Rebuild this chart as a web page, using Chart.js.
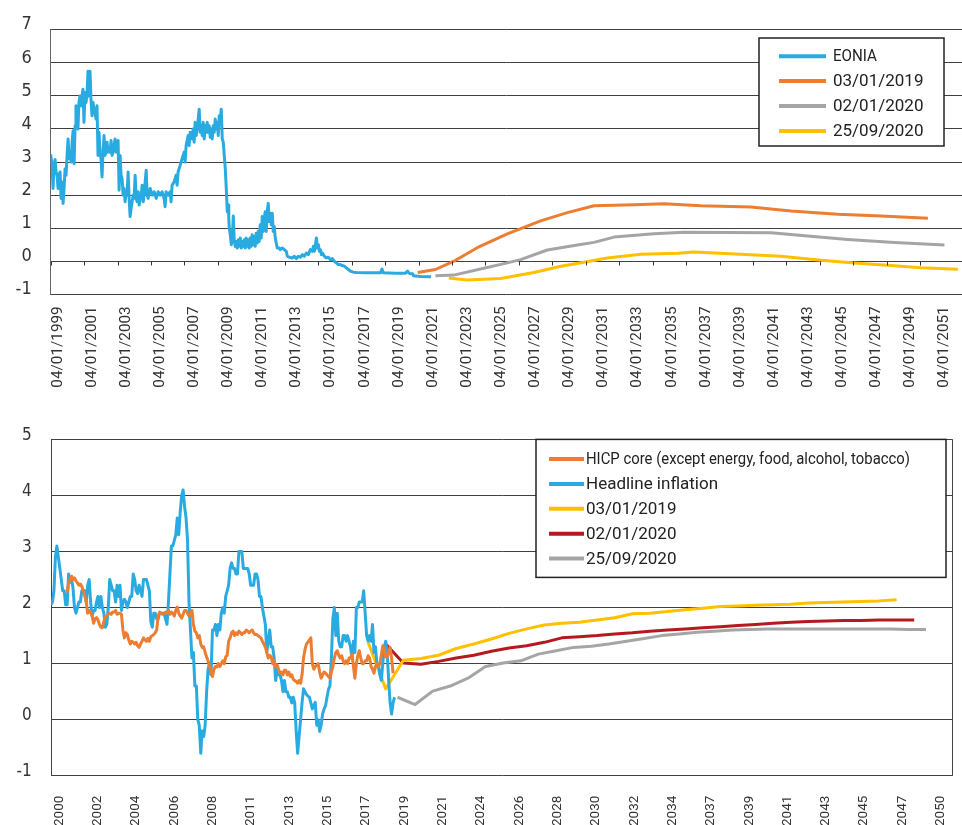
<!DOCTYPE html>
<html>
<head>
<meta charset="utf-8">
<script src="https://cdn.jsdelivr.net/npm/chart.js@4.4.1/dist/chart.umd.min.js"></script>
<style>
  html, body { margin: 0; padding: 0; background: #fff; }
  #wrap { position: relative; width: 962px; height: 825px; overflow: hidden; }
  #eoniaChart { position: absolute; left: 0; top: 0; }
  #inflationChart { position: absolute; left: 0; top: 410px; }
</style>
</head>
<body>
<div id="wrap">
  <canvas id="eoniaChart" width="962" height="410"></canvas>
  <canvas id="inflationChart" width="962" height="415"></canvas>
</div>
<script>
// ---- top panel: EONIA and forward curves, x = position on the date axis (years)
const eonia = [
  [1999.00,3.23],[1999.08,2.9],[1999.14,2.2],[1999.20,2.9],[1999.26,3.08],[1999.32,2.7],[1999.38,2.6],[1999.44,2.2],
  [1999.50,2.6],[1999.56,2.7],[1999.62,1.9],[1999.68,2.4],[1999.74,1.75],[1999.80,2.2],[1999.86,2.8],[1999.92,2.6],
  [1999.98,3.2],[2000.04,3.7],[2000.10,3.1],[2000.16,3.3],[2000.22,3.0],[2000.28,3.6],[2000.34,3.95],[2000.40,2.95],
  [2000.46,4.1],[2000.51,4.7],[2000.57,4.1],[2000.63,4.0],[2000.69,4.8],[2000.75,5.0],[2000.81,4.7],[2000.87,5.0],
  [2000.93,5.2],[2000.99,4.2],[2001.05,5.1],[2001.11,4.8],[2001.17,5.0],[2001.23,5.75],[2001.29,5.0],[2001.35,5.75],
  [2001.41,4.9],[2001.47,4.4],[2001.53,4.8],[2001.59,4.6],[2001.65,4.5],[2001.71,4.3],[2001.77,4.7],[2001.83,3.2],
  [2001.89,3.9],[2001.95,3.3],[2002.01,3.1],[2002.07,2.55],[2002.13,3.3],[2002.19,3.8],[2002.25,3.2],[2002.31,3.3],
  [2002.37,3.6],[2002.43,3.3],[2002.49,3.4],[2002.55,3.3],[2002.61,3.65],[2002.67,3.2],[2002.73,3.3],[2002.79,3.5],
  [2002.85,3.7],[2002.91,3.3],[2002.97,3.4],[2003.03,3.65],[2003.09,2.15],[2003.15,3.2],[2003.21,2.6],[2003.27,2.5],
  [2003.33,2.0],[2003.39,2.2],[2003.45,1.8],[2003.51,2.1],[2003.57,2.0],[2003.63,2.7],[2003.69,1.9],[2003.75,1.35],
  [2003.81,1.6],[2003.87,1.8],[2003.93,2.0],[2003.99,1.9],[2004.05,2.6],[2004.11,1.9],[2004.17,1.8],[2004.23,2.1],
  [2004.29,1.7],[2004.35,1.9],[2004.41,2.0],[2004.47,2.3],[2004.53,1.8],[2004.59,2.0],[2004.65,2.4],[2004.71,2.75],
  [2004.77,2.0],[2004.83,1.9],[2004.89,2.1],[2004.95,2.2],[2005.07,2.0],[2005.19,2.1],[2005.31,1.9],[2005.43,2.1],
  [2005.55,2.0],[2005.66,2.1],[2005.78,1.9],[2005.84,1.65],[2005.90,2.1],[2006.02,2.0],[2006.14,2.1],[2006.20,1.8],
  [2006.26,2.3],[2006.38,2.4],[2006.50,2.6],[2006.56,2.3],[2006.62,2.7],[2006.74,2.9],[2006.86,3.1],[2006.98,3.3],
  [2007.04,3.0],[2007.10,3.5],[2007.22,3.8],[2007.28,3.5],[2007.34,3.9],[2007.46,3.7],[2007.52,4.0],[2007.58,3.6],
  [2007.64,4.2],[2007.70,3.8],[2007.76,4.0],[2007.82,4.3],[2007.88,4.6],[2007.94,3.9],[2008.00,4.1],[2008.06,3.8],
  [2008.12,4.2],[2008.18,3.7],[2008.24,4.1],[2008.30,3.9],[2008.36,4.2],[2008.42,3.9],[2008.48,4.1],[2008.54,3.75],
  [2008.60,4.0],[2008.66,3.7],[2008.72,4.1],[2008.78,3.9],[2008.84,4.3],[2008.90,4.0],[2008.96,4.2],[2009.02,3.8],
  [2009.08,4.4],[2009.14,4.3],[2009.20,4.6],[2009.26,3.7],[2009.32,3.6],[2009.38,3.2],[2009.44,2.8],[2009.50,2.2],
  [2009.56,1.5],[2009.62,1.7],[2009.65,1.3],[2009.68,1.0],[2009.74,0.8],[2009.80,0.5],[2009.86,0.7],[2009.92,1.37],
  [2009.98,0.6],[2010.04,0.45],[2010.10,0.6],[2010.16,0.4],[2010.22,0.65],[2010.28,0.45],[2010.34,0.7],[2010.40,0.4],
  [2010.46,0.6],[2010.52,0.45],[2010.58,0.65],[2010.64,0.4],[2010.69,0.7],[2010.75,0.45],[2010.81,0.65],[2010.87,0.4],
  [2010.93,0.7],[2010.99,0.45],[2011.05,0.8],[2011.11,0.5],[2011.17,0.75],[2011.23,0.45],[2011.29,0.85],[2011.35,0.55],
  [2011.41,0.9],[2011.47,0.6],[2011.53,1.1],[2011.59,0.7],[2011.65,1.35],[2011.71,0.9],[2011.77,1.3],[2011.83,1.5],
  [2011.89,0.9],[2011.95,1.5],[2012.01,1.75],[2012.07,1.2],[2012.13,1.45],[2012.19,1.1],[2012.25,1.45],[2012.31,0.9],
  [2012.37,1.05],[2012.43,0.7],[2012.49,0.55],[2012.55,0.4],[2012.67,0.4],[2012.73,0.35],[2012.85,0.4],[2012.97,0.35],
  [2013.09,0.3],[2013.15,0.15],[2013.27,0.12],[2013.45,0.1],[2013.57,0.15],[2013.69,0.08],[2013.81,0.15],[2013.93,0.12],
  [2014.05,0.2],[2014.17,0.15],[2014.29,0.25],[2014.41,0.2],[2014.53,0.35],[2014.65,0.3],[2014.71,0.45],[2014.77,0.3],
  [2014.89,0.7],[2014.95,0.4],[2015.01,0.5],[2015.07,0.3],[2015.13,0.35],[2015.19,0.2],[2015.25,0.25],[2015.37,0.15],
  [2015.48,0.1],[2015.60,0.12],[2015.72,0.05],[2015.84,0.08],[2015.96,0.0],[2016.08,-0.05],[2016.20,-0.1],[2016.32,-0.1],
  [2016.44,-0.13],[2016.56,-0.15],[2016.68,-0.2],[2016.80,-0.25],[2016.92,-0.3],[2017.10,-0.33],[2017.28,-0.34],[2017.82,-0.35],
  [2018.42,-0.35],[2018.72,-0.35],[2018.81,-0.24],[2018.90,-0.35],[2019.62,-0.36],[2020.22,-0.36],[2020.34,-0.3],[2020.46,-0.37],
  [2020.64,-0.38],[2020.70,-0.44],[2021.11,-0.46],[2021.75,-0.47]
];
const fwd20190103 = [
  [2020.95,-0.34],[2022.01,-0.25],[2023.11,0.0],[2024.51,0.41],[2026.31,0.83],[2028.30,1.22],[2029.90,1.47],[2031.49,1.68],
  [2033.89,1.71],[2035.68,1.74],[2037.88,1.68],[2040.87,1.64],[2043.27,1.52],[2046.07,1.42],[2048.66,1.37],[2051.46,1.3]
];
const fwd20200102 = [
  [2022.01,-0.44],[2023.11,-0.42],[2024.90,-0.21],[2026.31,-0.05],[2027.10,0.05],[2028.70,0.34],[2030.50,0.49],[2031.49,0.57],
  [2032.69,0.73],[2035.08,0.83],[2036.88,0.88],[2042.07,0.86],[2044.27,0.76],[2046.66,0.66],[2049.46,0.57],[2052.45,0.49]
];
const fwd20200925 = [
  [2022.81,-0.51],[2023.91,-0.57],[2025.90,-0.52],[2027.90,-0.34],[2029.50,-0.15],[2030.89,-0.03],[2032.29,0.1],[2034.29,0.21],
  [2036.49,0.24],[2037.48,0.28],[2042.67,0.15],[2045.07,0.03],[2047.06,-0.05],[2049.06,-0.12],[2051.05,-0.2],[2053.25,-0.24]
];
// two-yearly tick marks on the zero line, and the date labels (printed slightly wider apart than the marks)
const topTickYears = [1999, 2001, 2003, 2005, 2007, 2009, 2011, 2013, 2015, 2017, 2019, 2021, 2023, 2025,
  2027, 2029, 2031, 2033, 2035, 2037, 2039, 2041, 2043, 2045, 2047, 2049, 2051];
const topLabelStep = 2.04;

// ---- bottom panel: monthly index, 0 = first month of the headline series
const headlineStart = 0;
const headline = [
  2.05, 2.1, 2.3, 2.9, 3.1, 2.9, 2.7, 2.5, 2.3, 2.3, 2.05, 2.05,
  2.6, 2.45, 2.5, 2.35, 2.0, 1.9, 2.0, 2.1, 2.1, 2.3, 2.3, 2.3,
  2.1, 2.4, 2.5, 2.1, 1.85, 1.95, 1.95, 2.1, 2.2, 2.0, 2.2, 2.0,
  1.9, 1.65, 1.7, 2.0, 2.5, 2.4, 2.3, 2.3, 2.1, 2.4, 2.2, 2.4,
  1.95, 2.1, 2.15, 2.1, 2.0, 2.1, 2.2, 2.2, 2.6, 2.5, 2.3, 2.25,
  2.4, 2.3, 2.2, 2.5, 2.5, 2.5, 2.4, 2.3, 1.75, 1.65, 1.9, 1.9,
  1.8, 1.8, 1.9, 1.9, 1.9, 1.9, 1.8, 1.7, 2.1, 2.6, 3.1, 3.1,
  3.2, 3.3, 3.6, 3.3, 3.7, 4.0, 4.1, 3.8, 3.6, 3.2, 2.1, 1.6,
  1.1, 1.2, 0.6, 0.6, 0.0, -0.1, -0.6, -0.2, -0.3, -0.1, 0.5, 0.9,
  1.0, 0.8, 1.6, 1.6, 1.7, 1.5, 1.7, 1.6, 1.9, 2.0, 1.9, 2.2,
  2.3, 2.4, 2.7, 2.8, 2.7, 2.7, 2.6, 2.6, 3.0, 3.0, 3.0, 2.7,
  2.7, 2.7, 2.7, 2.6, 2.4, 2.4, 2.4, 2.6, 2.6, 2.5, 2.2, 2.2,
  2.0, 1.85, 1.7, 1.2, 1.4, 1.6, 1.3, 1.3, 1.1, 0.7, 0.9, 0.8,
  0.8, 0.7, 0.5, 0.7, 0.5, 0.5, 0.4, 0.4, 0.3, 0.4, 0.3, -0.2,
  -0.6, -0.3, 0.0, 0.3, 0.55, 0.5, 0.45, 0.42, 0.4, 0.3, 0.19, 0.25,
  0.31, -0.1, 0.0, -0.21, -0.1, 0.1, 0.19, 0.25, 0.4, 0.54, 0.6, 1.1,
  1.8, 2.0, 1.5, 1.9, 1.4, 1.3, 1.3, 1.5, 1.5, 1.4, 1.5, 1.4,
  1.3, 1.1, 1.4, 1.2, 2.0, 2.0, 2.1, 2.1, 2.1, 2.3, 1.9, 1.5,
  1.4, 1.5, 1.4, 1.7, 1.2, 1.3, 1.0, 1.0, 0.8, 0.7, 1.0, 1.3,
  1.4, 1.2, 0.7, 0.3, 0.1, 0.3, 0.4
];
const coreStart = 11;
const core = [
  2.27,
  2.45, 2.5, 2.56, 2.5, 2.53, 2.48, 2.44, 2.4, 2.42, 2.38, 2.3, 2.21,
  2.1, 1.9, 1.95, 1.92, 1.85, 1.72, 1.8, 1.82, 1.78, 1.7, 1.65, 1.64,
  1.75, 1.84, 1.85, 1.88, 1.9, 1.88, 1.92, 1.92, 1.95, 1.88, 1.9, 1.9,
  1.88, 1.6, 1.46, 1.55, 1.52, 1.42, 1.35, 1.4, 1.38, 1.35, 1.38, 1.32,
  1.29, 1.35, 1.4, 1.46, 1.42, 1.4, 1.45, 1.4, 1.48, 1.5, 1.52, 1.55,
  1.6, 1.85, 1.92, 1.9, 1.88, 1.9, 1.92, 1.9, 1.95, 1.88, 1.92, 1.9,
  1.85, 1.95, 2.01, 1.9, 1.85, 1.81, 1.88, 1.95, 1.95, 1.9, 1.85, 1.87,
  1.95, 1.7, 1.58, 1.55, 1.46, 1.5, 1.35, 1.29, 1.3, 1.2, 1.12, 1.05,
  0.95, 0.85, 0.77, 0.9, 0.95, 0.94, 1.0, 0.95, 1.0, 1.05, 1.0, 1.12,
  1.15, 1.4, 1.46, 1.55, 1.58, 1.5, 1.55, 1.52, 1.58, 1.55, 1.52, 1.55,
  1.55, 1.6, 1.58, 1.55, 1.58, 1.6, 1.55, 1.52, 1.52, 1.5, 1.48, 1.46,
  1.4, 1.35, 1.29, 1.2, 1.1, 1.15, 1.12, 1.0, 1.05, 0.94, 0.98, 0.9,
  0.83, 0.85, 0.8, 0.88, 0.88, 0.8, 0.85, 0.77, 0.8, 0.72, 0.7, 0.68,
  0.65, 0.7, 0.65, 0.8, 1.1, 1.25, 1.35, 1.38, 1.42, 1.46, 1.0, 0.9,
  0.95, 0.97, 1.0, 0.85, 0.74, 0.8, 0.85, 0.83, 0.8, 0.77, 0.74, 0.85,
  0.95, 1.1, 1.2, 1.23, 1.15, 1.1, 1.14, 1.05, 1.0, 1.05, 1.0, 1.1,
  1.1, 1.17, 0.95, 0.74, 1.0, 1.15, 1.23, 1.1, 1.0, 1.0, 1.05, 1.05,
  1.14, 1.1, 0.95, 0.9, 0.83, 0.95, 1.0, 0.95, 1.0, 1.15, 1.32, 1.25,
  1.12, 1.12, 1.2, 1.29, 1.1, 0.83
];
// inflation swap curves: one point per year from the curve date
const swap20190103Start = 216;
const swap20190103 = [1.38, 0.55, 1.06, 1.09, 1.15, 1.27, 1.35, 1.44, 1.54, 1.62, 1.69, 1.72, 1.74, 1.78, 1.82, 1.89,
  1.9, 1.93, 1.96, 1.99, 2.02, 2.03, 2.04, 2.05, 2.06, 2.08, 2.09, 2.1, 2.11, 2.12, 2.14];
const swap20200102Start = 228;
const swap20200102 = [1.35, 1.01, 0.99, 1.04, 1.1, 1.15, 1.22, 1.28, 1.32, 1.38, 1.46, 1.48, 1.5, 1.53, 1.55, 1.58,
  1.6, 1.62, 1.64, 1.66, 1.68, 1.7, 1.72, 1.74, 1.75, 1.76, 1.77, 1.77, 1.78, 1.78, 1.78];
const swap20200925Start = 236;
const swap20200925 = [0.4, 0.27, 0.51, 0.6, 0.74, 0.95, 1.01, 1.05, 1.17, 1.23, 1.29, 1.31, 1.35, 1.4, 1.45, 1.5,
  1.53, 1.56, 1.58, 1.6, 1.61, 1.62, 1.62, 1.62, 1.62, 1.62, 1.62, 1.62, 1.62, 1.61, 1.61];
const bottomTickLabels = ['2000', '2002', '2004', '2006', '2008', '2011', '2013', '2015', '2017', '2019', '2021', '2024',
  '2026', '2028', '2030', '2032', '2034', '2037', '2039', '2041', '2043', '2045', '2047', '2050'];
const bottomLabelFirst = 1;
const bottomLabelStep = 26.1;

const toPoints = pairs => pairs.map(([x, y]) => ({ x, y }));
const stepPoints = (start, values, step) => values.map((v, i) => ({ x: start + i * step, y: v }));

Chart.defaults.animation = false;
Chart.defaults.elements.point.radius = 0;
Chart.defaults.elements.line.tension = 0;
Chart.defaults.elements.line.borderJoinStyle = 'round';
Chart.defaults.elements.line.borderWidth = 3;

const narrowFont = "'Liberation Sans Narrow', 'DejaVu Sans Condensed', 'DejaVu Sans', sans-serif";
const labelFont = "Roboto, 'DejaVu Sans', sans-serif";

// small ticks on the zero line and the right-hand frame line
const axisExtras = {
  id: 'axisExtras',
  afterDraw(chart, args, opts) {
    const { ctx, chartArea, scales: { x, y } } = chart;
    ctx.save();
    ctx.strokeStyle = '#333';
    ctx.lineWidth = 1;
    if (opts.zeroTicks) {
      const y0 = Math.round(y.getPixelForValue(0)) + 0.5;
      opts.zeroTicks.forEach(v => {
        const px = Math.round(x.getPixelForValue(v)) + 0.5;
        ctx.beginPath();
        ctx.moveTo(px, y0);
        ctx.lineTo(px, y0 + 4);
        ctx.stroke();
      });
    }
    if (opts.rightBorder) {
      const px = Math.round(chartArea.right) - 0.5;
      ctx.strokeStyle = '#444';
      ctx.beginPath();
      ctx.moveTo(px, chartArea.top);
      ctx.lineTo(px, chartArea.bottom);
      ctx.stroke();
    }
    ctx.restore();
  }
};

// framed legend drawn inside the plot
const boxLegend = {
  id: 'boxLegend',
  afterDraw(chart, args, opts) {
    const ctx = chart.ctx;
    const b = opts.box;
    ctx.save();
    ctx.fillStyle = '#fff';
    ctx.fillRect(b.left, b.top, b.right - b.left, b.bottom - b.top);
    ctx.strokeStyle = '#222';
    ctx.lineWidth = 1.5;
    ctx.strokeRect(b.left, b.top, b.right - b.left, b.bottom - b.top);
    ctx.font = opts.font;
    ctx.textBaseline = 'middle';
    chart.data.datasets.forEach((ds, i) => {
      const yy = opts.firstRow + i * opts.rowGap;
      ctx.strokeStyle = ds.borderColor;
      ctx.lineWidth = 4;
      ctx.beginPath();
      ctx.moveTo(opts.lineFrom, yy);
      ctx.lineTo(opts.lineTo, yy);
      ctx.stroke();
      ctx.fillStyle = '#222';
      const mw = opts.maxWidths && opts.maxWidths[i];
      if (mw) ctx.fillText(ds.label, opts.textX, yy + 1, mw);
      else ctx.fillText(ds.label, opts.textX, yy + 1);
    });
    ctx.restore();
  }
};

new Chart(document.getElementById('eoniaChart'), {
  type: 'line',
  data: {
    datasets: [
      { label: 'EONIA', data: toPoints(eonia), borderColor: '#29abe2' },
      { label: '03/01/2019', data: toPoints(fwd20190103), borderColor: '#ed7d31' },
      { label: '02/01/2020', data: toPoints(fwd20200102), borderColor: '#a5a5a5' },
      { label: '25/09/2020', data: toPoints(fwd20200925), borderColor: '#ffc000' }
    ]
  },
  options: {
    responsive: false,
    layout: { padding: { top: 21.6, right: 0, bottom: 0, left: 0 } },
    scales: {
      x: {
        type: 'linear',
        min: 1999,
        max: 2053.5,
        afterBuildTicks: scale => { scale.ticks = topTickYears.map((yr, k) => ({ value: 1999 + k * topLabelStep })); },
        afterFit: scale => { scale.height = 115.7; },
        ticks: {
          autoSkip: false,
          minRotation: 90,
          maxRotation: 90,
          padding: 4,
          labelOffset: 7,
          color: '#333',
          font: { family: labelFont, size: 15.3 },
          callback: (value, index) => '04/01/' + topTickYears[index]
        },
        grid: { display: false },
        border: { display: false }
      },
      y: {
        min: -1,
        max: 7,
        afterFit: scale => { scale.width = 50.7; },
        ticks: {
          stepSize: 1,
          padding: 19,
          labelOffset: -5,
          color: '#333',
          font: { family: narrowFont, size: 18 }
        },
        grid: { color: '#404040', lineWidth: 1, drawTicks: false },
        border: { display: true, color: '#666', width: 1 }
      }
    },
    plugins: {
      legend: { display: false },
      tooltip: { enabled: false },
      axisExtras: { zeroTicks: topTickYears },
      boxLegend: {
        box: { left: 759, top: 38, right: 944, bottom: 146 },
        font: "17px " + labelFont,
        firstRow: 56.2,
        rowGap: 24.9,
        lineFrom: 779,
        lineTo: 826,
        textX: 833,
        maxWidths: [44, 93, 93, 93]
      }
    }
  },
  plugins: [axisExtras, boxLegend]
});

new Chart(document.getElementById('inflationChart'), {
  type: 'line',
  data: {
    datasets: [
      { label: 'HICP core (except energy, food, alcohol, tobacco)', data: stepPoints(coreStart, core, 1), borderColor: '#ed7d31' },
      { label: 'Headline inflation', data: stepPoints(headlineStart, headline, 1), borderColor: '#29abe2' },
      { label: '03/01/2019', data: stepPoints(swap20190103Start, swap20190103, 12), borderColor: '#ffc000' },
      { label: '02/01/2020', data: stepPoints(swap20200102Start, swap20200102, 12), borderColor: '#b5191f' },
      { label: '25/09/2020', data: stepPoints(swap20200925Start, swap20200925, 12), borderColor: '#a5a5a5' }
    ]
  },
  options: {
    responsive: false,
    layout: { padding: { top: 18.7, right: 2, bottom: 0, left: 0 } },
    scales: {
      x: {
        type: 'linear',
        min: 0,
        max: 614.2,
        afterBuildTicks: scale => {
          scale.ticks = bottomTickLabels.map((l, i) => ({ value: bottomLabelFirst + i * bottomLabelStep }));
        },
        afterFit: scale => { scale.height = 49.3; },
        ticks: {
          autoSkip: false,
          minRotation: 90,
          maxRotation: 90,
          padding: 12,
          labelOffset: 7,
          color: '#333',
          font: { family: labelFont, size: 13.5 },
          callback: (value, index) => bottomTickLabels[index]
        },
        grid: { display: false },
        border: { display: false }
      },
      y: {
        min: -1,
        max: 5,
        afterFit: scale => { scale.width = 51; },
        ticks: {
          stepSize: 1,
          padding: 19.3,
          labelOffset: -4,
          color: '#333',
          font: { family: narrowFont, size: 17 }
        },
        grid: { color: '#404040', lineWidth: 1, drawTicks: false },
        border: { display: true, color: '#444', width: 1 }
      }
    },
    plugins: {
      legend: { display: false },
      tooltip: { enabled: false },
      axisExtras: { rightBorder: true },
      boxLegend: {
        box: { left: 536, top: 29.4, right: 946, bottom: 167.4 },
        font: "17px " + labelFont,
        firstRow: 49,
        rowGap: 24.9,
        lineFrom: 549,
        lineTo: 584,
        textX: 586,
        maxWidths: [324, 0, 0, 0, 0]
      }
    }
  },
  plugins: [axisExtras, boxLegend]
});
</script>
</body>
</html>
